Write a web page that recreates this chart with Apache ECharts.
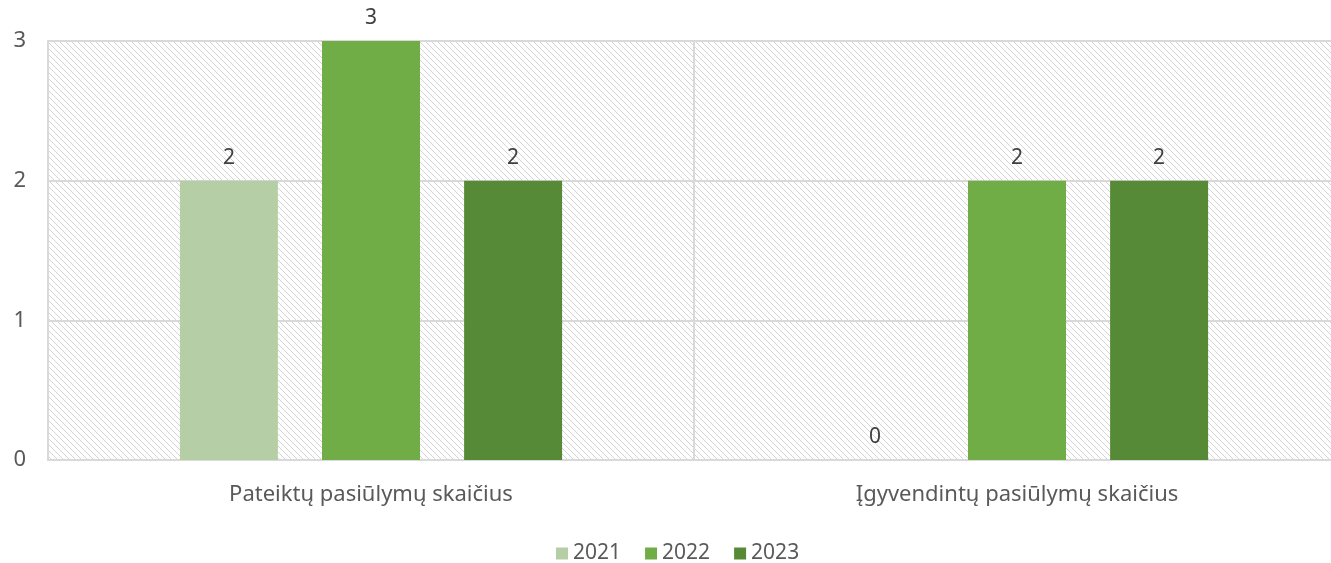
<!DOCTYPE html>
<html>
<head>
    <meta charset="utf-8">
    <script src="https://cdn.jsdelivr.net/npm/echarts@6/dist/echarts.min.js"></script>
    <style>
        html, body { margin: 0; padding: 0; background: #fff; }
        #chart { width: 1331px; height: 563px; }
    </style>
</head>
<body>
    <div id="chart"></div>
    <script>
        // duomenys
        var categories = ['Pateiktų pasiūlymų skaičius', 'Įgyvendintų pasiūlymų skaičius'];
        var years = ['2021', '2022', '2023'];
        var values2021 = [2, 0];
        var values2022 = [3, 2];
        var values2023 = [2, 2];
        var colors = ['#b5cea5', '#70ad47', '#578a36'];

        // įstrižų linijų fonas
        var hatch = document.createElement('canvas');
        hatch.width = 6;
        hatch.height = 6;
        var ctx = hatch.getContext('2d');
        ctx.fillStyle = '#ffffff';
        ctx.fillRect(0, 0, 6, 6);
        ctx.fillStyle = '#d4d4d4';
        for (var i = 0; i < 6; i++) {
            ctx.fillRect(i, i, 1, 1);
        }

        var chart = echarts.init(document.getElementById('chart'));
        var font = 'Noto Sans';

        function makeSeries(name, data, idx) {
            return {
                name: name,
                type: 'bar',
                data: data,
                barWidth: 98,
                barGap: '45%',
                itemStyle: { color: colors[idx] },
                label: {
                    show: true,
                    position: 'top',
                    distance: 12,
                    color: '#404040',
                    fontFamily: font,
                    fontSize: 21
                }
            };
        }

        var option = {
            animation: false,
            textStyle: { fontFamily: font },
            grid: {
                left: 48,
                top: 41,
                width: 1292,
                height: 419,
                show: true,
                borderWidth: 0,
                outerBoundsMode: 'none',
                containLabel: false,
                backgroundColor: { image: hatch, repeat: 'repeat' }
            },
            legend: {
                data: years,
                top: 538,
                left: 551,
                itemWidth: 12,
                itemHeight: 12,
                itemGap: 24,
                icon: 'rect',
                textStyle: { color: '#595959', fontSize: 21, fontFamily: font }
            },
            xAxis: {
                type: 'category',
                data: categories,
                axisTick: { show: false },
                axisLine: { lineStyle: { color: '#d9d9d9', width: 2 } },
                splitLine: { show: true, lineStyle: { color: '#d9d9d9', width: 2 } },
                axisLabel: { color: '#595959', fontSize: 22, margin: 24, fontFamily: font }
            },
            yAxis: {
                type: 'value',
                min: 0,
                max: 3,
                interval: 1,
                axisLine: { show: true, lineStyle: { color: '#d9d9d9', width: 2 } },
                axisTick: { show: false },
                splitLine: { lineStyle: { color: '#d9d9d9', width: 2 } },
                axisLabel: { color: '#595959', fontSize: 22, margin: 22, fontFamily: font }
            },
            series: [
                makeSeries(years[0], values2021, 0),
                makeSeries(years[1], values2022, 1),
                makeSeries(years[2], values2023, 2)
            ]
        };
        chart.setOption(option);
    </script>
</body>
</html>
